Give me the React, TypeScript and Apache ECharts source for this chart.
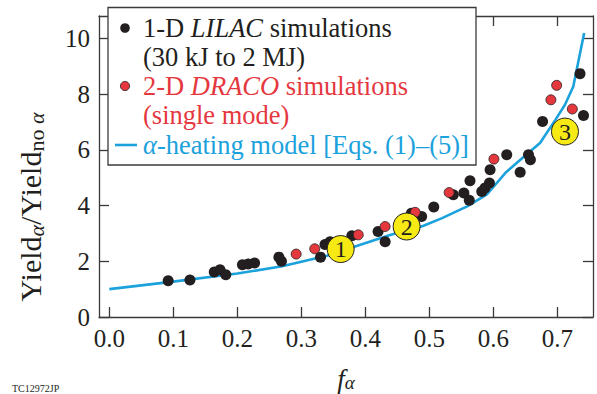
import React, { useEffect, useRef } from "react";
import * as echarts from "echarts";

const xTicks = [0, 0.1, 0.2, 0.3, 0.4, 0.5, 0.6, 0.7];
const yTicks = [0, 2, 4, 6, 8, 10];

const lilacF = [0.092, 0.126, 0.164, 0.173, 0.182, 0.208, 0.217, 0.227, 0.265, 0.269, 0.33, 0.337, 0.345, 0.379, 0.42, 0.431, 0.472, 0.488, 0.507, 0.5375, 0.554, 0.5625, 0.5636, 0.582, 0.587, 0.594, 0.595, 0.621, 0.642, 0.655, 0.658, 0.677, 0.741, 0.7355];
const lilacRatio = [1.3, 1.33, 1.62, 1.7, 1.52, 1.88, 1.9, 1.94, 2.15, 2.0, 2.15, 2.6, 2.7, 2.92, 3.07, 2.7, 3.73, 3.61, 3.95, 4.39, 4.45, 4.19, 4.89, 4.51, 4.63, 4.81, 5.29, 5.83, 5.2, 5.83, 5.65, 7.02, 7.24, 8.74];

const dracoF = [0.292, 0.321, 0.389, 0.431, 0.478, 0.531, 0.601, 0.69, 0.699, 0.7235];
const dracoRatio = [2.26, 2.45, 2.95, 3.25, 3.76, 4.47, 5.67, 7.8, 8.32, 7.47];

const modelF = [0.0, 0.1, 0.2, 0.27, 0.34, 0.39, 0.44, 0.49, 0.52, 0.56, 0.59, 0.62, 0.65, 0.673, 0.697, 0.712, 0.725, 0.742];
const modelRatio = [1.0, 1.27, 1.56, 1.82, 2.2, 2.58, 2.95, 3.27, 3.55, 3.98, 4.4, 5.2, 5.8, 6.25, 7.08, 7.62, 8.28, 10.2];

const markerF = [0.3615, 0.4646, 0.712];
const markerRatio = [2.44, 3.25, 6.66];
const markerLabels = ["1", "2", "3"];

const SERIF = "'Liberation Serif', 'DejaVu Serif', serif";
const INK = "#231f20";
const AXIS = "#3a3a3a";
const BLUE = "#1ba1dc";
const RED = "#e5383e";
const YELLOW = "#f7ea14";
const LEG = 26.5;

export default function App() {
  const ref = useRef<HTMLDivElement>(null);
  useEffect(() => {
    document.body.style.margin = "0";
    const chart = echarts.init(ref.current!, null, { renderer: "svg" });
    const axisLine = { show: true, onZero: false, lineStyle: { color: AXIS, width: 1.3 } };
    const tickStyle = { color: AXIS, width: 1.3 };
    const xMin = -0.0161;
    const xMax = 0.7558;
    const yMax = 10.81;
    chart.setOption({
      animation: false,
      grid: { left: 99, top: 16, right: 4, bottom: 77, containLabel: false },
      xAxis: [
        {
          type: "value", min: xMin, max: xMax, position: "bottom",
          axisLine, splitLine: { show: false },
          axisTick: { show: true, inside: true, length: 10, customValues: xTicks, lineStyle: tickStyle },
          axisLabel: {
            show: true, customValues: xTicks, margin: 9,
            formatter: (v: number) => v.toFixed(1),
            fontSize: 25, fontFamily: SERIF, color: INK,
          },
        },
        {
          type: "value", min: xMin, max: xMax, position: "top",
          axisLine, splitLine: { show: false },
          axisTick: { show: true, inside: true, length: 10, customValues: xTicks, lineStyle: tickStyle },
          axisLabel: { show: false },
        },
      ],
      yAxis: [
        {
          type: "value", min: 0, max: yMax, position: "left",
          axisLine, splitLine: { show: false },
          axisTick: { show: true, inside: true, length: 10, customValues: yTicks, lineStyle: tickStyle },
          axisLabel: {
            show: true, customValues: yTicks, margin: 9,
            fontSize: 25, fontFamily: SERIF, color: INK,
          },
        },
        {
          type: "value", min: 0, max: yMax, position: "right",
          axisLine, splitLine: { show: false },
          axisTick: { show: true, inside: true, length: 10, customValues: yTicks, lineStyle: tickStyle },
          axisLabel: { show: false },
        },
      ],
      series: [
        {
          type: "line", data: modelF.map((f, i) => [f, modelRatio[i]]),
          showSymbol: false, symbol: "none", z: 2,
          lineStyle: { color: BLUE, width: 2.6 },
        },
        {
          type: "scatter", data: lilacF.map((f, i) => [f, lilacRatio[i]]),
          symbol: "circle", symbolSize: 11, z: 3,
          itemStyle: { color: INK, opacity: 1 },
        },
        {
          type: "scatter", data: dracoF.map((f, i) => [f, dracoRatio[i]]),
          symbol: "circle", symbolSize: 10, z: 4,
          itemStyle: { color: RED, borderColor: INK, borderWidth: 0.8, opacity: 1 },
        },
        {
          type: "scatter", data: markerF.map((f, i) => [f, markerRatio[i]]),
          symbol: "circle", symbolSize: 27, z: 5,
          itemStyle: { color: YELLOW, borderColor: INK, borderWidth: 1, opacity: 1 },
          label: {
            show: true, position: "inside",
            formatter: (p: any) => markerLabels[p.dataIndex],
            fontSize: 24, fontFamily: SERIF, color: INK,
          },
        },
      ],
      graphic: [
        {
          type: "rect", z: 100,
          shape: { x: 108, y: 7.5, width: 368, height: 157.5 },
          style: { fill: "#fff", stroke: AXIS, lineWidth: 1.3 },
        },
        { type: "circle", z: 101, shape: { cx: 125, cy: 28, r: 4.8 }, style: { fill: INK } },
        { type: "circle", z: 101, shape: { cx: 125, cy: 86, r: 4.6 }, style: { fill: RED, stroke: INK, lineWidth: 0.8 } },
        { type: "line", z: 101, shape: { x1: 115, y1: 145, x2: 137, y2: 145 }, style: { stroke: BLUE, lineWidth: 2.6 } },
        {
          type: "text", z: 101, x: 143, y: 28,
          style: {
            text: "1-D {it|LILAC} simulations", fill: INK, font: `${LEG}px ${SERIF}`,
            verticalAlign: "middle", align: "left",
            rich: { it: { fontStyle: "italic", fontSize: LEG, fontFamily: SERIF, fill: INK } },
          },
        },
        {
          type: "text", z: 101, x: 143, y: 57,
          style: { text: "(30 kJ to 2 MJ)", fill: INK, font: `${LEG}px ${SERIF}`, verticalAlign: "middle", align: "left" },
        },
        {
          type: "text", z: 101, x: 143, y: 86,
          style: {
            text: "2-D {it|DRACO} simulations", fill: RED, font: `${LEG}px ${SERIF}`,
            verticalAlign: "middle", align: "left",
            rich: { it: { fontStyle: "italic", fontSize: LEG, fontFamily: SERIF, fill: RED } },
          },
        },
        {
          type: "text", z: 101, x: 143, y: 115,
          style: { text: "(single mode)", fill: RED, font: `${LEG}px ${SERIF}`, verticalAlign: "middle", align: "left" },
        },
        {
          type: "text", z: 101, x: 143, y: 145,
          style: {
            text: "{it|α}-heating model [Eqs. (1)–(5)]", fill: BLUE, font: `${LEG}px ${SERIF}`,
            verticalAlign: "middle", align: "left",
            rich: { it: { fontStyle: "italic", fontSize: LEG, fontFamily: SERIF, fill: BLUE } },
          },
        },
        {
          type: "text", z: 101, x: 30, y: 207, rotation: Math.PI / 2,
          style: {
            text: "{m|Yield}{si|α}{m|/Yield}{s|no }{si|α}",
            align: "center", verticalAlign: "middle", fill: INK,
            rich: {
              m: { fontSize: 30, fontFamily: SERIF, fill: INK, lineHeight: 34, verticalAlign: "middle" },
              s: { fontSize: 22, fontFamily: SERIF, fill: INK, lineHeight: 22, verticalAlign: "bottom" },
              si: { fontSize: 22, fontFamily: SERIF, fill: INK, fontStyle: "italic", lineHeight: 22, verticalAlign: "bottom" },
            },
          },
        },
        {
          type: "text", z: 101, x: 346, y: 379,
          style: {
            text: "{i|f}{s|α}",
            align: "center", verticalAlign: "middle", fill: INK,
            rich: {
              i: { fontSize: 27, fontFamily: SERIF, fill: INK, fontStyle: "italic", lineHeight: 26, verticalAlign: "middle" },
              s: { fontSize: 19, fontFamily: SERIF, fill: INK, fontStyle: "italic", lineHeight: 18, verticalAlign: "bottom" },
            },
          },
        },
        {
          type: "text", z: 101, x: 12, y: 383,
          style: { text: "TC12972JP", fill: INK, font: `10px ${SERIF}`, verticalAlign: "top", align: "left" },
        },
      ],
    });
    return () => chart.dispose();
  }, []);
  return <div ref={ref} style={{ width: 597, height: 394 }} />;
}
